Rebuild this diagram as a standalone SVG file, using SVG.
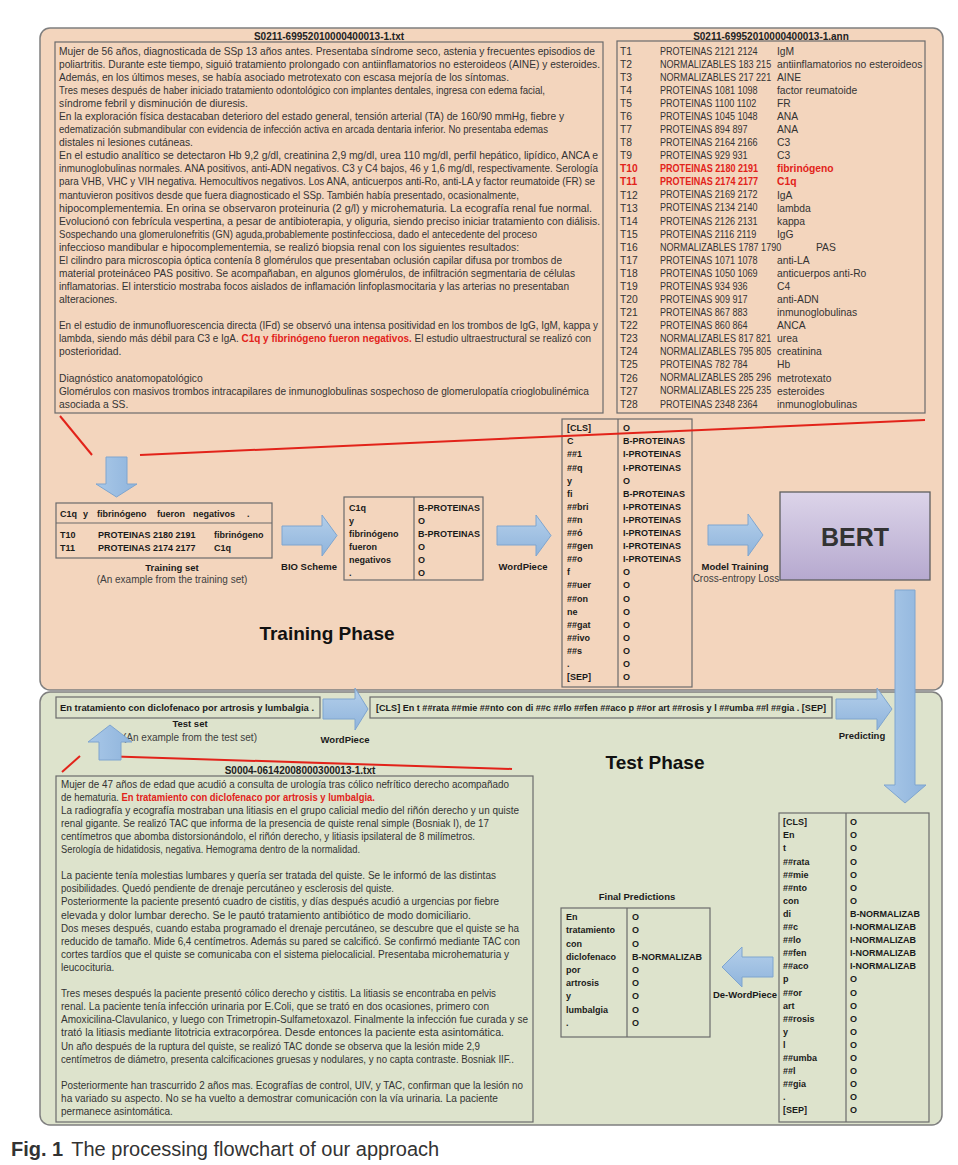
<svg xmlns="http://www.w3.org/2000/svg" width="958" height="1165" viewBox="0 0 958 1165">
<defs>
<style>
text{font-family:"Liberation Sans",Arial,sans-serif;fill:#333}
.p{font-size:10.3px}
.q{font-size:10px}
.ttl{font-size:10px;font-weight:bold;text-anchor:middle;fill:#222}
.tb{font-size:9px;font-weight:bold;fill:#1a1a1a}
.tb text{fill:#1a1a1a}
.lb{font-size:9.5px;font-weight:bold;text-anchor:middle;fill:#1a1a1a}
.sub{font-size:10px;text-anchor:middle;fill:#404040}
.red{fill:#e2231a;font-weight:bold}
.box{fill:none;stroke:#6b6b6b;stroke-width:1.2}
.arr{fill:url(#gb);stroke:#7ea5cf;stroke-width:1}
.arrv{fill:url(#gbh);stroke:#7ea5cf;stroke-width:1}
.rl{fill:none;stroke:#e2231a;stroke-width:2}
.phase{font-size:19px;font-weight:bold;text-anchor:middle;fill:#111}
</style>
<linearGradient id="gb" x1="0" y1="0" x2="0" y2="1"><stop offset="0" stop-color="#b4cfea"/><stop offset="1" stop-color="#8fb4dc"/></linearGradient>
<linearGradient id="gbh" x1="0" y1="0" x2="1" y2="0"><stop offset="0" stop-color="#a9c8e8"/><stop offset="1" stop-color="#8fb4dc"/></linearGradient>
<linearGradient id="gp" x1="0" y1="0" x2="0" y2="1"><stop offset="0" stop-color="#dcd4e9"/><stop offset="1" stop-color="#b6a9cf"/></linearGradient>
</defs>

<g id="training-phase">
<rect x="40" y="28" width="903" height="662" rx="10" fill="#f3d5bd" stroke="#7f7f7f" stroke-width="1.5"/>
<text class="phase" x="327" y="640">Training Phase</text>
</g>
<g id="test-phase">
<rect x="40" y="692" width="902" height="433" rx="10" fill="#dde3cc" stroke="#7f7f7f" stroke-width="1.5"/>
<text class="phase" x="655" y="769">Test Phase</text>
</g>

<g id="train-txt-file">
<text class="ttl" x="329" y="39.5">S0211-69952010000400013-1.txt</text>
<rect class="box" x="55" y="42" width="548" height="371"/>
<g class="p">
<text x="59" y="54.7" textLength="536" lengthAdjust="spacingAndGlyphs">Mujer de 56 años, diagnosticada de SSp 13 años antes. Presentaba síndrome seco, astenia y frecuentes episodios de</text>
<text x="59" y="67.8" textLength="541" lengthAdjust="spacingAndGlyphs">poliartritis. Durante este tiempo, siguió tratamiento prolongado con antiinflamatorios no esteroideos (AINE) y esteroides.</text>
<text x="59" y="80.8" textLength="450" lengthAdjust="spacingAndGlyphs">Además, en los últimos meses, se había asociado metrotexato con escasa mejoría de los síntomas.</text>
<text x="59" y="93.9" textLength="486" lengthAdjust="spacingAndGlyphs">Tres meses después de haber iniciado tratamiento odontológico con implantes dentales, ingresa con edema facial,</text>
<text x="59" y="107.0">síndrome febril y disminución de diuresis.</text>
<text x="59" y="120.1" textLength="505" lengthAdjust="spacingAndGlyphs">En la exploración física destacaban deterioro del estado general, tensión arterial (TA) de 160/90 mmHg, fiebre y</text>
<text x="59" y="133.1" textLength="489" lengthAdjust="spacingAndGlyphs">edematización submandibular con evidencia de infección activa en arcada dentaria inferior. No presentaba edemas</text>
<text x="59" y="146.2">distales ni lesiones cutáneas.</text>
<text x="59" y="159.3" textLength="539" lengthAdjust="spacingAndGlyphs">En el estudio analítico se detectaron Hb 9,2 g/dl, creatinina 2,9 mg/dl, urea 110 mg/dl, perfil hepático, lipídico, ANCA e</text>
<text x="59" y="172.3" textLength="539" lengthAdjust="spacingAndGlyphs">inmunoglobulinas normales. ANA positivos, anti-ADN negativos. C3 y C4 bajos, 46 y 1,6 mg/dl, respectivamente. Serología</text>
<text x="59" y="185.4" textLength="536" lengthAdjust="spacingAndGlyphs">para VHB, VHC y VIH negativa. Hemocultivos negativos. Los ANA, anticuerpos anti-Ro, anti-LA y factor reumatoide (FR) se</text>
<text x="59" y="198.5" textLength="460" lengthAdjust="spacingAndGlyphs">mantuvieron positivos desde que fuera diagnosticado el SSp. También había presentado, ocasionalmente,</text>
<text x="59" y="211.5" textLength="533" lengthAdjust="spacingAndGlyphs">hipocomplementemia. En orina se observaron proteinuria (2 g/l) y microhematuria. La ecografía renal fue normal.</text>
<text x="59" y="224.6" textLength="541" lengthAdjust="spacingAndGlyphs">Evolucionó con febrícula vespertina, a pesar de antibioterapia, y oliguria, siendo preciso iniciar tratamiento con diálisis.</text>
<text x="59" y="237.7" textLength="478" lengthAdjust="spacingAndGlyphs">Sospechando una glomerulonefritis (GN) aguda,probablemente postinfecciosa, dado el antecedente del proceso</text>
<text x="59" y="250.8" textLength="460" lengthAdjust="spacingAndGlyphs">infeccioso mandibular e hipocomplementemia, se realizó biopsia renal con los siguientes resultados:</text>
<text x="59" y="263.8" textLength="503" lengthAdjust="spacingAndGlyphs">El cilindro para microscopia óptica contenía 8 glomérulos que presentaban oclusión capilar difusa por trombos de</text>
<text x="59" y="276.9" textLength="516" lengthAdjust="spacingAndGlyphs">material proteináceo PAS positivo. Se acompañaban, en algunos glomérulos, de infiltración segmentaria de células</text>
<text x="59" y="290.0" textLength="510" lengthAdjust="spacingAndGlyphs">inflamatorias. El intersticio mostraba focos aislados de inflamación linfoplasmocitaria y las arterias no presentaban</text>
<text x="59" y="303.0">alteraciones.</text>
<text x="59" y="329.2" textLength="539" lengthAdjust="spacingAndGlyphs">En el estudio de inmunofluorescencia directa (IFd) se observó una intensa positividad en los trombos de IgG, IgM, kappa y</text>
<text x="59" y="342.2" textLength="532" lengthAdjust="spacingAndGlyphs">lambda, siendo más débil para C3 e IgA. <tspan class="red">C1q y fibrinógeno fueron negativos.</tspan> El estudio ultraestructural se realizó con</text>
<text x="59" y="355.3">posterioridad.</text>
<text x="59" y="381.5">Diagnóstico anatomopatológico</text>
<text x="59" y="394.5" textLength="530" lengthAdjust="spacingAndGlyphs">Glomérulos con masivos trombos intracapilares de inmunoglobulinas sospechoso de glomerulopatía crioglobulinémica</text>
<text x="59" y="407.6">asociada a SS.</text>
</g>
</g>

<g id="train-ann-file">
<text class="ttl" x="771" y="39.5">S0211-69952010000400013-1.ann</text>
<rect class="box" x="617" y="41" width="308" height="372"/>
<g class="p">
<text x="620" y="54.7">T1</text><text x="620" y="67.8">T2</text><text x="620" y="80.8">T3</text><text x="620" y="93.9">T4</text>
<text x="620" y="107.0">T5</text><text x="620" y="120.1">T6</text><text x="620" y="133.1">T7</text><text x="620" y="146.2">T8</text>
<text x="620" y="159.3">T9</text><text class="red" x="620" y="172.3">T10</text><text class="red" x="620" y="185.4">T11</text><text x="620" y="198.5">T12</text>
<text x="620" y="211.5">T13</text><text x="620" y="224.6">T14</text><text x="620" y="237.7">T15</text><text x="620" y="250.8">T16</text>
<text x="620" y="263.8">T17</text><text x="620" y="276.9">T18</text><text x="620" y="290.0">T19</text><text x="620" y="303.0">T20</text>
<text x="620" y="316.1">T21</text><text x="620" y="329.2">T22</text><text x="620" y="342.2">T23</text><text x="620" y="355.3">T24</text>
<text x="620" y="368.4">T25</text><text x="620" y="381.5">T26</text><text x="620" y="394.5">T27</text><text x="620" y="407.6">T28</text>
</g>
<g class="p" transform="translate(660 0) scale(0.88 1)">
<text x="0" y="54.7">PROTEINAS 2121 2124</text>
<text x="0" y="67.8">NORMALIZABLES 183 215</text>
<text x="0" y="80.8">NORMALIZABLES 217 221</text>
<text x="0" y="93.9">PROTEINAS 1081 1098</text>
<text x="0" y="107.0">PROTEINAS 1100 1102</text>
<text x="0" y="120.1">PROTEINAS 1045 1048</text>
<text x="0" y="133.1">PROTEINAS 894 897</text>
<text x="0" y="146.2">PROTEINAS 2164 2166</text>
<text x="0" y="159.3">PROTEINAS 929 931</text>
<text class="red" x="0" y="172.3">PROTEINAS 2180 2191</text>
<text class="red" x="0" y="185.4">PROTEINAS 2174 2177</text>
<text x="0" y="198.5">PROTEINAS 2169 2172</text>
<text x="0" y="211.5">PROTEINAS 2134 2140</text>
<text x="0" y="224.6">PROTEINAS 2126 2131</text>
<text x="0" y="237.7">PROTEINAS 2116 2119</text>
<text x="0" y="250.8">NORMALIZABLES 1787 1790</text>
<text x="0" y="263.8">PROTEINAS 1071 1078</text>
<text x="0" y="276.9">PROTEINAS 1050 1069</text>
<text x="0" y="290.0">PROTEINAS 934 936</text>
<text x="0" y="303.0">PROTEINAS 909 917</text>
<text x="0" y="316.1">PROTEINAS 867 883</text>
<text x="0" y="329.2">PROTEINAS 860 864</text>
<text x="0" y="342.2">NORMALIZABLES 817 821</text>
<text x="0" y="355.3">NORMALIZABLES 795 805</text>
<text x="0" y="368.4">PROTEINAS 782 784</text>
<text x="0" y="381.5">NORMALIZABLES 285 296</text>
<text x="0" y="394.5">NORMALIZABLES 225 235</text>
<text x="0" y="407.6">PROTEINAS 2348 2364</text>
</g>
<g class="p">
<text x="777" y="54.7">IgM</text>
<text x="777" y="67.8">antiinflamatorios no esteroideos</text>
<text x="777" y="80.8">AINE</text>
<text x="777" y="93.9">factor reumatoide</text>
<text x="777" y="107.0">FR</text>
<text x="777" y="120.1">ANA</text>
<text x="777" y="133.1">ANA</text>
<text x="777" y="146.2">C3</text>
<text x="777" y="159.3">C3</text>
<text class="red" x="777" y="172.3">fibrinógeno</text>
<text class="red" x="777" y="185.4">C1q</text>
<text x="777" y="198.5">IgA</text>
<text x="777" y="211.5">lambda</text>
<text x="777" y="224.6">kappa</text>
<text x="777" y="237.7">IgG</text>
<text x="816" y="250.8">PAS</text>
<text x="777" y="263.8">anti-LA</text>
<text x="777" y="276.9">anticuerpos anti-Ro</text>
<text x="777" y="290.0">C4</text>
<text x="777" y="303.0">anti-ADN</text>
<text x="777" y="316.1">inmunoglobulinas</text>
<text x="777" y="329.2">ANCA</text>
<text x="777" y="342.2">urea</text>
<text x="777" y="355.3">creatinina</text>
<text x="777" y="368.4">Hb</text>
<text x="777" y="381.5">metrotexato</text>
<text x="777" y="394.5">esteroides</text>
<text x="777" y="407.6">inmunoglobulinas</text>
</g>
</g>

<g id="training-set">
<rect class="box" x="56" y="503" width="216" height="55"/>
<line class="box" x1="56" y1="523" x2="272" y2="523"/>
<g class="tb">
<text x="60" y="516.5">C1q</text><text x="83" y="516.5">y</text><text x="97" y="516.5">fibrinógeno</text><text x="157" y="516.5">fueron</text><text x="193" y="516.5">negativos</text><text x="247" y="516.5">.</text>
<text x="60" y="537.5">T10</text><text x="98" y="537.5">PROTEINAS 2180 2191</text><text x="214" y="537.5">fibrinógeno</text>
<text x="60" y="550.5">T11</text><text x="98" y="550.5">PROTEINAS 2174 2177</text><text x="214" y="550.5">C1q</text>
</g>
<text class="lb" x="172" y="570.5">Training set</text>
<text class="sub" x="172" y="582.5">(An example from the training set)</text>
</g>

<g id="bio-table">
<rect class="box" x="344" y="497" width="139" height="83"/>
<line class="box" x1="414" y1="497" x2="414" y2="580"/>
<g class="tb">
<text x="349" y="511.2">C1q</text><text x="418" y="511.2">B-PROTEINAS</text>
<text x="349" y="524.2">y</text><text x="418" y="524.2">O</text>
<text x="349" y="537.2">fibrinógeno</text><text x="418" y="537.2">B-PROTEINAS</text>
<text x="349" y="550.2">fueron</text><text x="418" y="550.2">O</text>
<text x="349" y="563.2">negativos</text><text x="418" y="563.2">O</text>
<text x="349" y="576.2">.</text><text x="418" y="576.2">O</text>
</g>
</g>

<g id="wordpiece-table">
<rect class="box" x="562" y="419" width="130" height="268"/>
<line class="box" x1="618" y1="419" x2="618" y2="687"/>
<g class="tb">
<text x="567" y="431.2">[CLS]</text><text x="623" y="431.2">O</text>
<text x="567" y="444.3">C</text><text x="623" y="444.3">B-PROTEINAS</text>
<text x="567" y="457.4">##1</text><text x="623" y="457.4">I-PROTEINAS</text>
<text x="567" y="470.5">##q</text><text x="623" y="470.5">I-PROTEINAS</text>
<text x="567" y="483.6">y</text><text x="623" y="483.6">O</text>
<text x="567" y="496.7">fi</text><text x="623" y="496.7">B-PROTEINAS</text>
<text x="567" y="509.8">##bri</text><text x="623" y="509.8">I-PROTEINAS</text>
<text x="567" y="522.9">##n</text><text x="623" y="522.9">I-PROTEINAS</text>
<text x="567" y="536.0">##ó</text><text x="623" y="536.0">I-PROTEINAS</text>
<text x="567" y="549.1">##gen</text><text x="623" y="549.1">I-PROTEINAS</text>
<text x="567" y="562.2">##o</text><text x="623" y="562.2">I-PROTEINAS</text>
<text x="567" y="575.3">f</text><text x="623" y="575.3">O</text>
<text x="567" y="588.4">##uer</text><text x="623" y="588.4">O</text>
<text x="567" y="601.5">##on</text><text x="623" y="601.5">O</text>
<text x="567" y="614.6">ne</text><text x="623" y="614.6">O</text>
<text x="567" y="627.7">##gat</text><text x="623" y="627.7">O</text>
<text x="567" y="640.8">##ivo</text><text x="623" y="640.8">O</text>
<text x="567" y="653.9">##s</text><text x="623" y="653.9">O</text>
<text x="567" y="667.0">.</text><text x="623" y="667.0">O</text>
<text x="567" y="680.1">[SEP]</text><text x="623" y="680.1">O</text>
</g>
</g>

<g id="bert">
<rect x="780" y="492" width="150" height="88" fill="url(#gp)" stroke="#5f5f5f" stroke-width="1.3"/>
<text x="855" y="546" font-size="25" font-weight="bold" text-anchor="middle" fill="#111">BERT</text>
</g>

<g id="test-input">
<rect class="box" x="56" y="697" width="264" height="21"/>
<text class="tb" x="60" y="710.7" textLength="254" lengthAdjust="spacingAndGlyphs">En tratamiento con diclofenaco por artrosis y lumbalgia .</text>
<text class="lb" x="190" y="726.5">Test set</text>
<text class="sub" x="190" y="741" font-size="9.5">(An example from the test set)</text>
</g>

<g id="test-tokens">
<rect class="box" x="370" y="697" width="462" height="21"/>
<text class="tb" x="376" y="710.7" textLength="450" lengthAdjust="spacingAndGlyphs">[CLS] En t ##rata ##mie ##nto con di ##c ##lo ##fen ##aco p ##or art ##rosis y l ##umba ##l ##gia . [SEP]</text>
</g>

<g id="test-txt-file">
<text class="ttl" x="300" y="773.5">S0004-06142008000300013-1.txt</text>
<rect class="box" x="56" y="776" width="477" height="346"/>
<g class="q">
<text x="61" y="787.5" textLength="448" lengthAdjust="spacingAndGlyphs">Mujer de 47 años de edad que acudió a consulta de urología tras cólico nefrítico derecho acompañado</text>
<text x="61" y="800.6" textLength="314" lengthAdjust="spacingAndGlyphs">de hematuria. <tspan class="red">En tratamiento con diclofenaco por artrosis y lumbalgia.</tspan></text>
<text x="61" y="813.7" textLength="458" lengthAdjust="spacingAndGlyphs">La radiografía y ecografía mostraban una litiasis en el grupo calicial medio del riñón derecho y un quiste</text>
<text x="61" y="826.8" textLength="428" lengthAdjust="spacingAndGlyphs">renal gigante. Se realizó TAC que informa de la presencia de quiste renal simple (Bosniak I), de 17</text>
<text x="61" y="839.9" textLength="414" lengthAdjust="spacingAndGlyphs">centímetros que abomba distorsionándolo, el riñón derecho, y litiasis ipsilateral de 8 milímetros.</text>
<text x="61" y="853.0" textLength="299" lengthAdjust="spacingAndGlyphs">Serología de hidatidosis, negativa. Hemograma dentro de la normalidad.</text>
<text x="61" y="879.2" textLength="435" lengthAdjust="spacingAndGlyphs">La paciente tenía molestias lumbares y quería ser tratada del quiste. Se le informó de las distintas</text>
<text x="61" y="892.3" textLength="333" lengthAdjust="spacingAndGlyphs">posibilidades. Quedó pendiente de drenaje percutáneo y esclerosis del quiste.</text>
<text x="61" y="905.4" textLength="438" lengthAdjust="spacingAndGlyphs">Posteriormente la paciente presentó cuadro de cistitis, y días después acudió a urgencias por fiebre</text>
<text x="61" y="918.5" textLength="410" lengthAdjust="spacingAndGlyphs">elevada y dolor lumbar derecho. Se le pautó tratamiento antibiótico de modo domiciliario.</text>
<text x="61" y="931.6" textLength="458" lengthAdjust="spacingAndGlyphs">Dos meses después, cuando estaba programado el drenaje percutáneo, se descubre que el quiste se ha</text>
<text x="61" y="944.7" textLength="459" lengthAdjust="spacingAndGlyphs">reducido de tamaño. Mide 6,4 centímetros. Además su pared se calcificó. Se confirmó mediante TAC con</text>
<text x="61" y="957.8" textLength="448" lengthAdjust="spacingAndGlyphs">cortes tardíos que el quiste se comunicaba con el sistema pielocalicial. Presentaba microhematuria y</text>
<text x="61" y="970.9">leucocituria.</text>
<text x="61" y="997.1" textLength="435" lengthAdjust="spacingAndGlyphs">Tres meses después la paciente presentó cólico derecho y cistitis. La litiasis se encontraba en pelvis</text>
<text x="61" y="1010.2" textLength="428" lengthAdjust="spacingAndGlyphs">renal. La paciente tenía infección urinaria por E.Coli, que se trató en dos ocasiones, primero con</text>
<text x="61" y="1023.3" textLength="467" lengthAdjust="spacingAndGlyphs">Amoxicilina-Clavulanico, y luego con Trimetropin-Sulfametoxazol. Finalmente la infección fue curada y se</text>
<text x="61" y="1036.4" textLength="443" lengthAdjust="spacingAndGlyphs">trató la litiasis mediante litotricia extracorpórea. Desde entonces la paciente esta asintomática.</text>
<text x="61" y="1049.5" textLength="419" lengthAdjust="spacingAndGlyphs">Un año después de la ruptura del quiste, se realizó TAC donde se observa que la lesión mide 2,9</text>
<text x="61" y="1062.6" textLength="453" lengthAdjust="spacingAndGlyphs">centímetros de diámetro, presenta calcificaciones gruesas y nodulares, y no capta contraste. Bosniak IIF..</text>
<text x="61" y="1088.8" textLength="462" lengthAdjust="spacingAndGlyphs">Posteriormente han trascurrido 2 años mas. Ecografías de control, UIV, y TAC, confirman que la lesión no</text>
<text x="61" y="1101.9" textLength="437" lengthAdjust="spacingAndGlyphs">ha variado su aspecto. No se ha vuelto a demostrar comunicación con la vía urinaria. La paciente</text>
<text x="61" y="1115.0">permanece asintomática.</text>
</g>
</g>

<g id="prediction-table">
<rect class="box" x="779" y="813" width="150" height="309"/>
<line class="box" x1="846" y1="813" x2="846" y2="1122"/>
<g class="tb">
<text x="783" y="825.2">[CLS]</text><text x="850" y="825.2">O</text>
<text x="783" y="838.3">En</text><text x="850" y="838.3">O</text>
<text x="783" y="851.4">t</text><text x="850" y="851.4">O</text>
<text x="783" y="864.5">##rata</text><text x="850" y="864.5">O</text>
<text x="783" y="877.6">##mie</text><text x="850" y="877.6">O</text>
<text x="783" y="890.7">##nto</text><text x="850" y="890.7">O</text>
<text x="783" y="903.8">con</text><text x="850" y="903.8">O</text>
<text x="783" y="916.9">di</text><text x="850" y="916.9">B-NORMALIZAB</text>
<text x="783" y="930.0">##c</text><text x="850" y="930.0">I-NORMALIZAB</text>
<text x="783" y="943.1">##lo</text><text x="850" y="943.1">I-NORMALIZAB</text>
<text x="783" y="956.2">##fen</text><text x="850" y="956.2">I-NORMALIZAB</text>
<text x="783" y="969.3">##aco</text><text x="850" y="969.3">I-NORMALIZAB</text>
<text x="783" y="982.4">p</text><text x="850" y="982.4">O</text>
<text x="783" y="995.5">##or</text><text x="850" y="995.5">O</text>
<text x="783" y="1008.6">art</text><text x="850" y="1008.6">O</text>
<text x="783" y="1021.7">##rosis</text><text x="850" y="1021.7">O</text>
<text x="783" y="1034.8">y</text><text x="850" y="1034.8">O</text>
<text x="783" y="1047.9">l</text><text x="850" y="1047.9">O</text>
<text x="783" y="1061.0">##umba</text><text x="850" y="1061.0">O</text>
<text x="783" y="1074.1">##l</text><text x="850" y="1074.1">O</text>
<text x="783" y="1087.2">##gia</text><text x="850" y="1087.2">O</text>
<text x="783" y="1100.3">.</text><text x="850" y="1100.3">O</text>
<text x="783" y="1113.4">[SEP]</text><text x="850" y="1113.4">O</text>
</g>
</g>

<g id="final-predictions">
<text class="lb" x="637" y="900">Final Predictions</text>
<rect class="box" x="561" y="908" width="149" height="129"/>
<line class="box" x1="627" y1="908" x2="627" y2="1037"/>
<g class="tb">
<text x="566" y="920.2">En</text><text x="632" y="920.2">O</text>
<text x="566" y="933.4">tratamiento</text><text x="632" y="933.4">O</text>
<text x="566" y="946.6">con</text><text x="632" y="946.6">O</text>
<text x="566" y="959.8">diclofenaco</text><text x="632" y="959.8">B-NORMALIZAB</text>
<text x="566" y="973.0">por</text><text x="632" y="973.0">O</text>
<text x="566" y="986.2">artrosis</text><text x="632" y="986.2">O</text>
<text x="566" y="999.4">y</text><text x="632" y="999.4">O</text>
<text x="566" y="1012.6">lumbalgia</text><text x="632" y="1012.6">O</text>
<text x="566" y="1025.8">.</text><text x="632" y="1025.8">O</text>
</g>
</g>

<g id="connectors">
<line class="rl" x1="60" y1="416" x2="92" y2="455"/>
<line class="rl" x1="140" y1="455" x2="925" y2="420"/>
<line class="rl" x1="62" y1="772" x2="80" y2="756"/>
<line class="rl" x1="100" y1="756" x2="512" y2="769"/>
<path class="arrv" d="M106,457 H127 V484 H137 L116.5,497 L96,484 H106 Z"/>
<path class="arr" d="M282,526 H322 V515 L337,535.5 L322,556 V545 H282 Z"/>
<text class="lb" x="309" y="569.5">BIO Scheme</text>
<path class="arr" d="M497,526 H536 V515 L551,535.5 L536,556 V545 H497 Z"/>
<text class="lb" x="523" y="569.5">WordPiece</text>
<path class="arr" d="M708,525 H748 V514 L763,535 L748,556 V545 H708 Z"/>
<text class="lb" x="735" y="569.5">Model Training</text>
<text class="sub" x="736" y="582">Cross-entropy Loss</text>
<path class="arr" d="M323,699 H355 V688 L368,709 L355,730 V719 H323 Z"/>
<text class="lb" x="345" y="743">WordPiece</text>
<path class="arr" d="M836,699 H877 V688 L892,709 L877,730 V719 H836 Z"/>
<text class="lb" x="862" y="739">Predicting</text>
<path class="arrv" d="M99,760 V742 H88 L110,725 L132,742 H121 V760 Z"/>
<path class="arrv" d="M895,590 H915 V785 H926 L905,803 L884,785 H895 Z"/>
<path class="arr" d="M773,957 H742 V947 L722,967 L742,987 V977 H773 Z"/>
<text class="lb" x="745" y="998">De-WordPiece</text>
</g>

<text x="11" y="1156" font-size="20" fill="#231f20"><tspan font-weight="bold">Fig. 1</tspan><tspan dx="8">The processing flowchart of our approach</tspan></text>
</svg>
